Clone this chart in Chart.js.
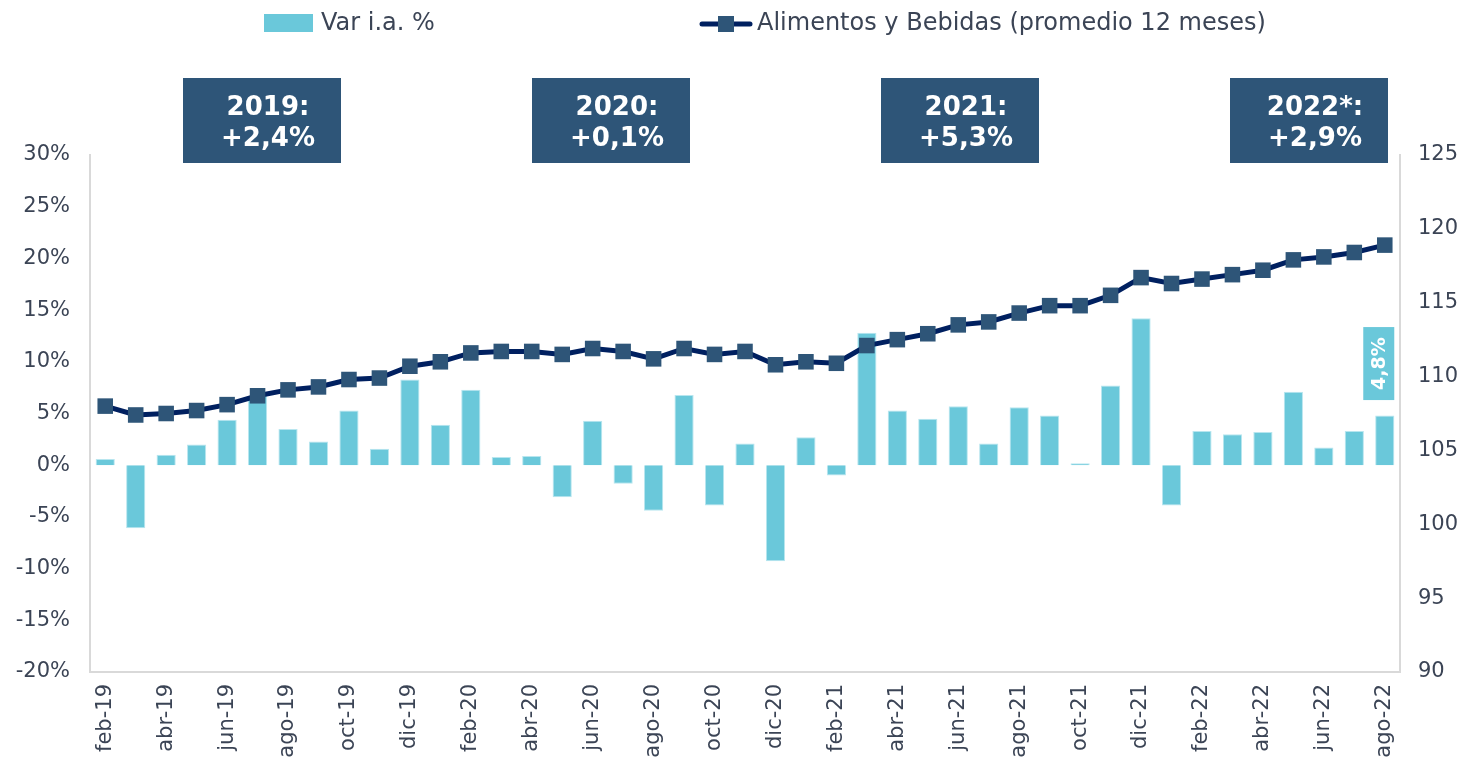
<!DOCTYPE html>
<html>
<head>
<meta charset="utf-8">
<script src="https://cdn.jsdelivr.net/npm/chart.js@4.4.1/dist/chart.umd.min.js"></script>
<style>
  html, body { margin: 0; padding: 0; background: #ffffff; }
  #wrap { width: 1465px; height: 763px; position: relative; }
</style>
</head>
<body>
<div id="wrap"><canvas id="chart" width="1465" height="763"></canvas></div>
<script>
// Months feb-19 .. ago-22
const months = [
  'feb-19','mar-19','abr-19','may-19','jun-19','jul-19','ago-19','sep-19','oct-19','nov-19','dic-19',
  'ene-20','feb-20','mar-20','abr-20','may-20','jun-20','jul-20','ago-20','sep-20','oct-20','nov-20','dic-20',
  'ene-21','feb-21','mar-21','abr-21','may-21','jun-21','jul-21','ago-21','sep-21','oct-21','nov-21','dic-21',
  'ene-22','feb-22','mar-22','abr-22','may-22','jun-22','jul-22','ago-22'
];

// Var i.a. % (bars, left axis)
const varIa = [
  0.6, -6.1, 1.0, 2.0, 4.4, 6.7, 3.5, 2.3, 5.3, 1.6, 8.3,
  3.9, 7.3, 0.8, 0.9, -3.1, 4.3, -1.8, -4.4, 6.8, -3.9, 2.1, -9.3,
  2.7, -1.0, 12.8, 5.3, 4.5, 5.7, 2.1, 5.6, 4.8, 0.2, 7.7, 14.2,
  -3.9, 3.3, 3.0, 3.2, 7.1, 1.7, 3.3, 4.8
];

// Alimentos y Bebidas, promedio 12 meses (line, right axis)
const promedio = [
  108.0, 107.4, 107.5, 107.7, 108.1, 108.7, 109.1, 109.3, 109.8, 109.9, 110.7,
  111.0, 111.6, 111.7, 111.7, 111.5, 111.9, 111.7, 111.2, 111.9, 111.5, 111.7, 110.8,
  111.0, 110.9, 112.1, 112.5, 112.9, 113.5, 113.7, 114.3, 114.8, 114.8, 115.5, 116.7,
  116.3, 116.6, 116.9, 117.2, 117.9, 118.1, 118.4, 118.9
];

// Yearly summary boxes
const yearBoxes = [
  { title: '2019:', value: '+2,4%', x: 262 },
  { title: '2020:', value: '+0,1%', x: 611 },
  { title: '2021:', value: '+5,3%', x: 960 },
  { title: '2022*:', value: '+2,9%', x: 1309 }
];

const barColor = '#6ac8da';
const lineColor = '#002060';
const markerColor = '#2e5578';
const textColor = '#3b4455';
const axisColor = '#d9d9d9';
const fontFamily = '"DejaVu Sans", Verdana, sans-serif';

// Legend, year boxes and last value label
const overlayPlugin = {
  id: 'overlay',
  afterDraw(chart) {
    const ctx = chart.ctx;
    ctx.save();

    // legend
    ctx.fillStyle = barColor;
    ctx.fillRect(264, 14, 49, 18);
    ctx.font = '24px ' + fontFamily;
    ctx.fillStyle = textColor;
    ctx.textBaseline = 'middle';
    ctx.textAlign = 'left';
    ctx.fillText('Var i.a. %', 321, 24);

    ctx.strokeStyle = lineColor;
    ctx.lineWidth = 5;
    ctx.lineCap = 'round';
    ctx.beginPath();
    ctx.moveTo(702, 24);
    ctx.lineTo(750, 24);
    ctx.stroke();
    ctx.fillStyle = markerColor;
    ctx.fillRect(718, 16, 16, 16);
    ctx.fillStyle = textColor;
    ctx.fillText('Alimentos y Bebidas (promedio 12 meses)', 757, 24);

    // year boxes
    yearBoxes.forEach(b => {
      ctx.fillStyle = markerColor;
      ctx.fillRect(b.x - 79, 78, 158, 85);
      ctx.fillStyle = '#ffffff';
      ctx.font = 'bold 26px ' + fontFamily;
      ctx.textAlign = 'center';
      ctx.fillText(b.title, b.x + 6, 108);
      ctx.fillText(b.value, b.x + 6, 139);
    });

    // last bar label, rotated
    const meta = chart.getDatasetMeta(1);
    const last = meta.data[meta.data.length - 1];
    if (last) {
      const cx = last.x - 6;
      const cy = last.y - 52;
      ctx.fillStyle = barColor;
      ctx.fillRect(cx - 15.5, cy - 36.5, 31, 73);
      ctx.translate(cx, cy);
      ctx.rotate(-Math.PI / 2);
      ctx.fillStyle = '#ffffff';
      ctx.font = 'bold 19px ' + fontFamily;
      ctx.textAlign = 'center';
      ctx.textBaseline = 'middle';
      ctx.fillText(varIa[varIa.length - 1].toFixed(1).replace('.', ',') + '%', 0, 1);
    }
    ctx.restore();
  }
};

const ctx = document.getElementById('chart').getContext('2d');
new Chart(ctx, {
  data: {
    labels: months,
    datasets: [
      {
        type: 'line',
        label: 'Alimentos y Bebidas (promedio 12 meses)',
        data: promedio,
        yAxisID: 'y1',
        borderColor: lineColor,
        borderWidth: 5,
        pointStyle: 'rect',
        pointRadius: 11,
        pointHoverRadius: 11,
        pointBackgroundColor: markerColor,
        pointBorderColor: markerColor,
        pointBorderWidth: 0,
        tension: 0,
        order: 0
      },
      {
        type: 'bar',
        label: 'Var i.a. %',
        data: varIa,
        yAxisID: 'y',
        backgroundColor: barColor,
        borderColor: '#b8e6ef',
        borderWidth: 1,
        categoryPercentage: 1,
        barPercentage: 0.63,
        order: 1
      }
    ]
  },
  options: {
    responsive: false,
    animation: false,
    layout: { padding: { top: 155, left: 0, right: 0, bottom: 0 } },
    plugins: {
      legend: { display: false },
      tooltip: { enabled: false }
    },
    scales: {
      x: {
        grid: { display: false },
        border: { display: true, color: axisColor, width: 2 },
        ticks: {
          autoSkip: false,
          maxRotation: 90,
          minRotation: 90,
          padding: 4,
          color: textColor,
          font: { family: fontFamily, size: 21 },
          callback: function (value, index) {
            return index % 2 === 0 ? months[index] : '';
          }
        },
        afterFit(scale) { scale.height = 91; }
      },
      y: {
        position: 'left',
        min: -20,
        max: 30,
        grid: { display: false },
        border: { display: true, color: axisColor, width: 2 },
        ticks: {
          stepSize: 5,
          padding: 12,
          color: textColor,
          font: { family: fontFamily, size: 21 },
          callback: v => v + '%'
        },
        afterFit(scale) { scale.width = 90; }
      },
      y1: {
        position: 'right',
        min: 90,
        max: 125,
        grid: { display: false },
        border: { display: true, color: axisColor, width: 2 },
        ticks: {
          stepSize: 5,
          padding: 10,
          color: textColor,
          font: { family: fontFamily, size: 21 }
        },
        afterFit(scale) { scale.width = 65; }
      }
    }
  },
  plugins: [overlayPlugin]
});
</script>
</body>
</html>
